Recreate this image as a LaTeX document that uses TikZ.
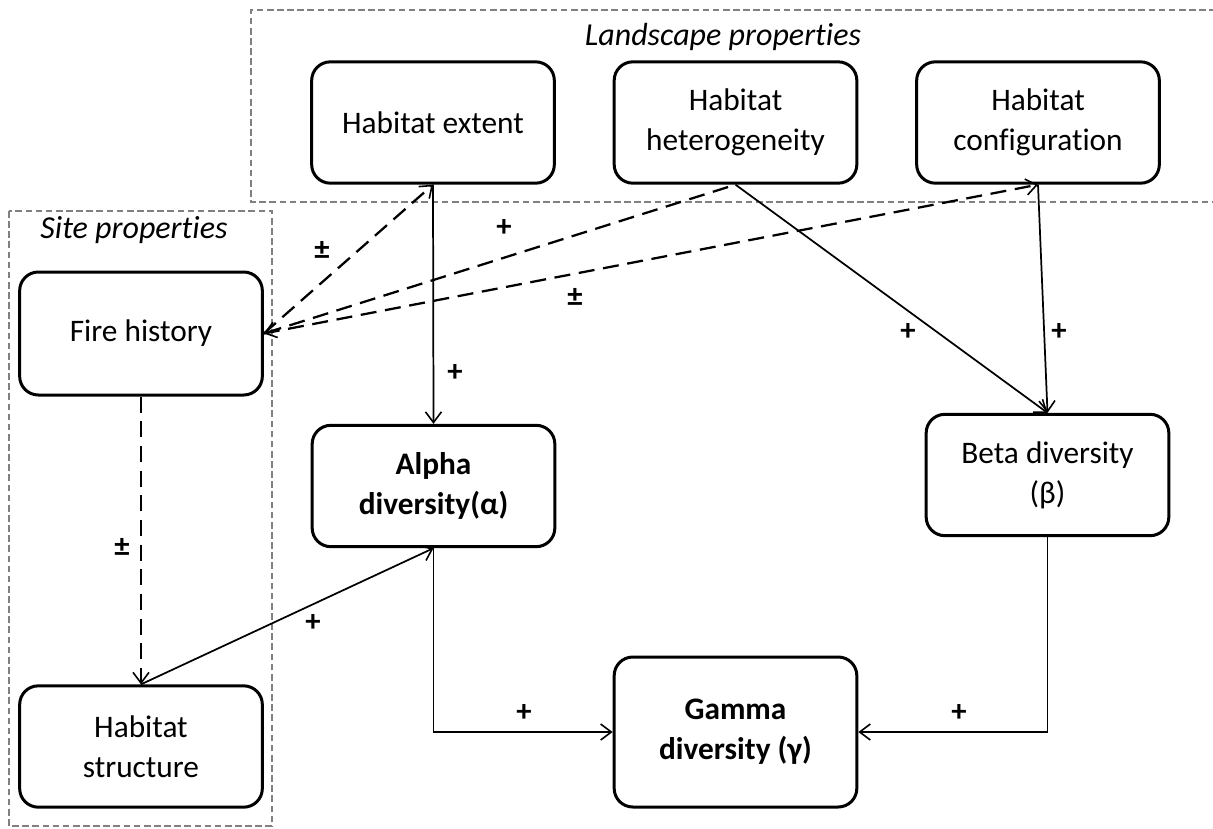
\documentclass[tikz,border=0pt]{standalone}
\usepackage{fontspec}
\setmainfont{Carlito}[Ligatures=NoCommon]
\usetikzlibrary{arrows.meta}
\tikzset{
  box/.style={draw=black, line width=2.25pt, rounded corners=14pt, align=center,
    minimum width=182pt, minimum height=91pt, inner sep=2pt,
    font=\fontsize{23.5}{30}\selectfont},
  boldbox/.style={box, font=\fontsize{23.5}{30}\selectfont\bfseries},
  group/.style={draw=black!50, line width=1.2pt, dash pattern=on 5pt off 2.6pt},
  grouplabel/.style={font=\fontsize{24}{28}\selectfont\itshape},
  link/.style={draw=black, line width=1.3pt, -{Straight Barb[length=8pt,width=12pt,line width=1.2pt]}},
  dlink/.style={link, line width=1.7pt, dash pattern=on 12pt off 6.5pt},
  sign/.style={font=\fontsize{23}{26}\selectfont\bfseries, inner sep=0pt}
}
\begin{document}
\begin{tikzpicture}[x=0.75pt, y=-0.75pt]
\useasboundingbox (0,0) rectangle (1213,828);
% group frames
\draw[group] (1216,10) -- (251,10) -- (251,202) -- (1216,202);
\draw[group] (9,211) rectangle (272,826);
\node[grouplabel] (lsp) at (723,37) {Landscape properties};
\node[grouplabel] (sp) at (134,230) {Site properties};
% boxes
\node[box] (ext) at (433,122.5) {Habitat extent};
\node[box] (het) at (735.5,122.5) {Habitat\\heterogeneity};
\node[box] (conf) at (1038,122.5) {Habitat\\configuration};
\node[box, minimum height=92.25pt] (fire) at (141,333.5) {Fire history};
\node[boldbox] (alpha) at (433.5,486) {Alpha\\diversity(α)};
\node[box] (beta) at (1047.5,475) {Beta diversity\\(β)};
\node[boldbox, minimum height=112.5pt] (gamma) at (735.5,732) {Gamma\\diversity (γ)};
\node[box] (struct) at (141,746.5) {Habitat\\structure};
% connectors
\draw[dlink] (fire.east) -- (ext.south);
\draw[dlink, {Straight Barb[length=8pt,width=12pt,line width=1.2pt]}-] (fire.east) -- (het.south);
\draw[dlink] (fire.east) -- (conf.south);
\draw[dlink] (fire.south) -- (struct.north);
\draw[link] (ext.south) -- (alpha.north);
\draw[link] (het.south) -- (beta.north);
\draw[link] (conf.south) -- (beta.north);
\draw[link] (struct.north) -- (alpha.south);
\draw[link] (alpha.south) |- (gamma.west);
\draw[link] (beta.south) |- (gamma.east);
% signs
\node[sign] (s1) at (322,250) {±};
\node[sign] (s2) at (504,228) {+};
\node[sign] (s3) at (575,297) {±};
\node[sign] (s4) at (455,373) {+};
\node[sign] (s5) at (908,332) {+};
\node[sign] (s6) at (1059,332) {+};
\node[sign] (s7) at (122,547) {±};
\node[sign] (s8) at (313,623) {+};
\node[sign] (s9) at (524,713) {+};
\node[sign] (s10) at (959,713) {+};
\end{tikzpicture}
\end{document}
